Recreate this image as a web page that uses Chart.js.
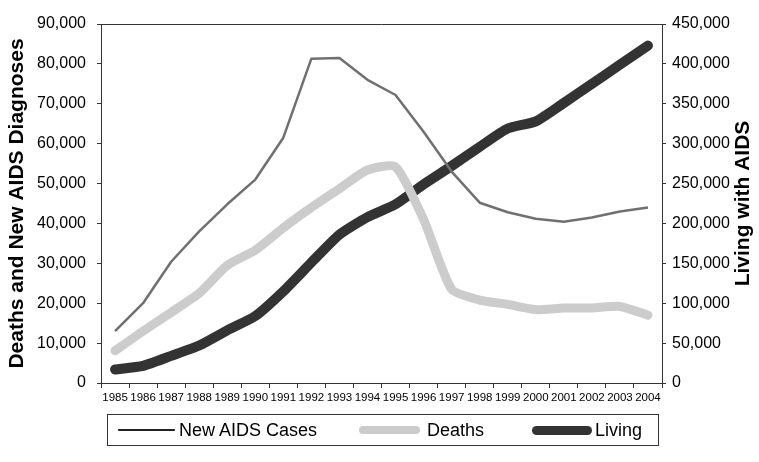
<!DOCTYPE html>
<html>
<head>
<meta charset="utf-8">
<script src="https://cdn.jsdelivr.net/npm/chart.js@4"></script>
<style>
  html, body { margin: 0; padding: 0; background: #fff; }
  #wrap { position: relative; width: 759px; height: 462px; }
  #legend { position: absolute; left: 107px; top: 414px; width: 552px; height: 32px;
            border: 1px solid #333; box-sizing: border-box; font-family: "Liberation Sans", Arial, sans-serif; font-size: 18px; color: #000; }
  .sample { position: absolute; }
  .label { position: absolute; top: 5px; line-height: 20px; }
</style>
</head>
<body>
<div id="wrap">
  <canvas id="aidsChart" width="759" height="462"></canvas>
  <div id="legend"></div>
</div>
<script>
// data
const years = ['1985','1986','1987','1988','1989','1990','1991','1992','1993','1994',
               '1995','1996','1997','1998','1999','2000','2001','2002','2003','2004'];
const newCases = [13000, 20000, 30400, 38000, 44800, 51000, 61500, 81300, 81500, 76000,
                  72200, 63000, 53000, 45200, 42800, 41200, 40400, 41500, 43000, 44000];
const deaths = [8100, 13000, 17700, 22500, 29500, 33300, 38900, 44000, 48700, 53400,
                54200, 41000, 23500, 20800, 19700, 18400, 18800, 18800, 19200, 17000];
const living = [17000, 21500, 34000, 47000, 66000, 84000, 115000, 151000, 186000, 208000,
                224000, 249000, 272000, 296000, 319000, 328000, 351000, 375000, 399000, 423000];
const seriesNames = ['New AIDS Cases', 'Deaths', 'Living'];
const leftTicks = [0, 10000, 20000, 30000, 40000, 50000, 60000, 70000, 80000, 90000];
const rightTicks = [0, 50000, 100000, 150000, 200000, 250000, 300000, 350000, 400000, 450000];
const leftTitle = 'Deaths and New AIDS Diagnoses';
const rightTitle = 'Living with AIDS';

const FONT = '"Liberation Sans", Arial, sans-serif';

// top frame line and the axis titles (both read bottom-to-top)
const frameAndTitles = {
    id: 'frameAndTitles',
    afterDraw(chart) {
        const a = chart.chartArea, ctx = chart.ctx;
        ctx.save();
        ctx.strokeStyle = '#333';
        ctx.lineWidth = 1;
        ctx.beginPath();
        ctx.moveTo(a.left, a.top + 0.5);
        ctx.lineTo(a.right, a.top + 0.5);
        ctx.stroke();

        const cy = (a.top + a.bottom) / 2;
        ctx.fillStyle = '#000';
        ctx.font = 'bold 21px ' + FONT;
        ctx.textAlign = 'center';
        ctx.textBaseline = 'middle';
        [[17, leftTitle], [743, rightTitle]].forEach(([x, t]) => {
            ctx.save();
            ctx.translate(x, cy);
            ctx.rotate(-Math.PI / 2);
            ctx.fillText(t, 0, 0);
            ctx.restore();
        });
        ctx.restore();
    }
};

const fmt = v => Number(v).toLocaleString('en-US');

const ctx = document.getElementById('aidsChart').getContext('2d');
new Chart(ctx, {
    type: 'line',
    data: {
        labels: years,
        datasets: [{
            label: seriesNames[0],
            data: newCases,
            yAxisID: 'y',
            borderColor: '#707070',
            borderWidth: 2.5,
            tension: 0,
            pointRadius: 0,
            borderJoinStyle: 'round'
        }, {
            label: seriesNames[1],
            data: deaths,
            yAxisID: 'y',
            borderColor: '#cccccc',
            borderWidth: 9,
            tension: 0.2,
            pointRadius: 0,
            borderCapStyle: 'round',
            borderJoinStyle: 'round'
        }, {
            label: seriesNames[2],
            data: living,
            yAxisID: 'y2',
            borderColor: '#333333',
            borderWidth: 10,
            tension: 0.2,
            pointRadius: 0,
            borderCapStyle: 'round',
            borderJoinStyle: 'round'
        }]
    },
    options: {
        responsive: false,
        animation: false,
        layout: { padding: { top: 24, bottom: 59, left: 0, right: 0 } },
        plugins: {
            legend: { display: false },
            tooltip: { enabled: false },
            title: { display: false }
        },
        scales: {
            x: {
                type: 'category',
                offset: true,
                grid: { offset: true, drawOnChartArea: false, tickLength: 5, color: '#333' },
                border: { color: '#333', width: 1 },
                ticks: { color: '#000', font: { family: FONT, size: 11.5 }, maxRotation: 0, autoSkip: false, padding: 3 },
                afterFit(s) { s.height = 20; }
            },
            y: {
                position: 'left',
                min: 0, max: 90000,
                afterBuildTicks(s) { s.ticks = leftTicks.map(v => ({ value: v })); },
                grid: { drawOnChartArea: false, tickLength: 4, color: '#333' },
                border: { color: '#333', width: 1 },
                ticks: { color: '#000', font: { family: FONT, size: 16 }, padding: 11, callback: fmt },
                afterFit(s) { s.width = 101; }
            },
            y2: {
                position: 'right',
                min: 0, max: 450000,
                afterBuildTicks(s) { s.ticks = rightTicks.map(v => ({ value: v })); },
                grid: { drawOnChartArea: false, tickLength: 4, color: '#333' },
                border: { color: '#333', width: 1 },
                ticks: { color: '#000', font: { family: FONT, size: 16 }, padding: 6, callback: fmt },
                afterFit(s) { s.width = 97; }
            }
        }
    },
    plugins: [frameAndTitles]
});

// legend (HTML) built from series names
const legendSpec = [
    { sx: 10, sw: 57, h: 1.5, color: '#222', tx: 71 },
    { sx: 251, sw: 61, h: 8, color: '#cccccc', tx: 319 },
    { sx: 424, sw: 60, h: 9, color: '#333333', tx: 487 }
];
const legend = document.getElementById('legend');
seriesNames.forEach((name, i) => {
    const s = legendSpec[i];
    const sample = document.createElement('div');
    sample.className = 'sample';
    sample.style.left = s.sx + 'px';
    sample.style.width = s.sw + 'px';
    sample.style.height = s.h + 'px';
    sample.style.top = (15 - s.h / 2) + 'px';
    sample.style.background = s.color;
    sample.style.borderRadius = (s.h / 2) + 'px';
    legend.appendChild(sample);
    const label = document.createElement('div');
    label.className = 'label';
    label.style.left = s.tx + 'px';
    label.textContent = name;
    legend.appendChild(label);
});
</script>
</body>
</html>
